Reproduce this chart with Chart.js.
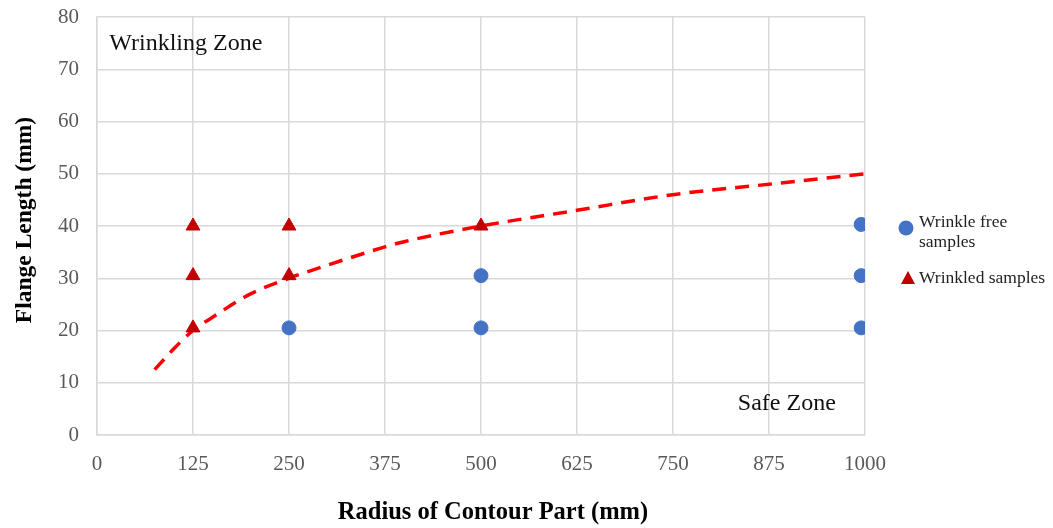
<!DOCTYPE html>
<html>
<head>
<meta charset="utf-8">
<script src="https://cdn.jsdelivr.net/npm/chart.js@4"></script>
<style>
  html, body { margin: 0; padding: 0; background: #fff; }
  #wrap { width: 1053px; height: 528px; }
</style>
</head>
<body>
<div id="wrap"><canvas id="chart" width="1053" height="528"></canvas></div>
<script>
// values
const freeX = [250, 500, 500, 995, 995, 995];
const freeY = [20.5, 20.5, 30.5, 20.5, 30.5, 40.3];
const wrinkledX = [125, 125, 125, 250, 250, 500];
const wrinkledY = [20.5, 30.5, 40, 30.5, 40, 40];
const limitX = [75, 100, 125, 150, 200, 250, 300, 375, 400, 500, 625, 750, 875, 1000];
const limitY = [12.5, 16.5, 20, 22.5, 27, 30, 32.5, 36, 37, 40, 43, 46, 48, 50];
const legendLabels = [["Wrinkle free", "samples"], ["Wrinkled samples"]];
const zoneLabels = ["Wrinkling Zone", "Safe Zone"];
const xTitle = "Radius of Contour Part (mm)";
const yTitle = "Flange Length (mm)";

const serif = "'Liberation Serif', 'DejaVu Serif', serif";
const blue = "#4472C4";
const darkRed = "#C00000";

const toPoints = (xs, ys) => xs.map((x, i) => ({ x: x, y: ys[i] }));

const extras = {
    id: "extras",
    afterDraw(chart) {
        const ctx = chart.ctx;
        const area = chart.chartArea;
        const xs = chart.scales.x, ys = chart.scales.y;
        ctx.save();
        ctx.fillStyle = "#111";
        ctx.textBaseline = "middle";
        ctx.font = "24px " + serif;
        ctx.textAlign = "left";
        ctx.fillText(zoneLabels[0], xs.getPixelForValue(16), ys.getPixelForValue(74.8));
        ctx.textAlign = "right";
        ctx.fillText(zoneLabels[1], xs.getPixelForValue(962), ys.getPixelForValue(6));

        // axis titles
        ctx.fillStyle = "#000";
        ctx.textAlign = "center";
        ctx.font = "bold 24.5px " + serif;
        ctx.fillText(xTitle, area.left + area.width / 2 + 12, area.bottom + 78);
        ctx.save();
        ctx.translate(25, area.top + area.height / 2 - 6);
        ctx.rotate(-Math.PI / 2);
        ctx.font = "bold 23.5px " + serif;
        ctx.fillText(yTitle, 0, 0);
        ctx.restore();

        // legend
        ctx.textAlign = "left";
        ctx.font = "17.5px " + serif;
        const lx = area.right + 41;
        let ly = area.top + 211;
        ctx.fillStyle = blue;
        ctx.beginPath();
        ctx.arc(lx, ly, 7.5, 0, Math.PI * 2);
        ctx.fill();
        ctx.fillStyle = "#222";
        ctx.fillText(legendLabels[0][0], lx + 13, ly - 6);
        ctx.fillText(legendLabels[0][1], lx + 13, ly + 14);
        ly += 50;
        ctx.fillStyle = darkRed;
        ctx.beginPath();
        ctx.moveTo(lx + 2, ly - 7);
        ctx.lineTo(lx + 9, ly + 6);
        ctx.lineTo(lx - 5, ly + 6);
        ctx.closePath();
        ctx.fill();
        ctx.fillStyle = "#222";
        ctx.fillText(legendLabels[1][0], lx + 13, ly);
        ctx.restore();
    }
};

const config = {
    type: "scatter",
    data: {
        datasets: [
            {
                label: "limit",
                data: toPoints(limitX, limitY),
                showLine: true,
                borderColor: "#FF0000",
                borderWidth: 3.5,
                borderDash: [14, 9],
                pointRadius: 0,
                cubicInterpolationMode: "monotone",
                fill: false,
                order: 3,
            },
            {
                label: legendLabels[0].join(" "),
                data: toPoints(freeX, freeY),
                backgroundColor: blue,
                borderColor: blue,
                pointRadius: 7,
                pointStyle: "circle",
                order: 1,
            },
            {
                label: legendLabels[1][0],
                data: toPoints(wrinkledX, wrinkledY),
                backgroundColor: darkRed,
                borderColor: darkRed,
                pointRadius: 8,
                pointStyle: "triangle",
                order: 2,
            },
        ],
    },
    options: {
        responsive: false,
        animation: false,
        layout: { padding: { top: 17, right: 188, left: 0, bottom: 0 }, autoPadding: false },
        plugins: {
            legend: { display: false },
            tooltip: { enabled: false },
        },
        scales: {
            x: {
                type: "linear",
                min: 0,
                max: 1000,
                ticks: {
                    stepSize: 125,
                    color: "#595959",
                    font: { family: serif, size: 21 },
                    padding: 17,
                    maxRotation: 0,
                    callback: (v) => String(v),
                },
                grid: { color: "#d9d9d9", lineWidth: 1.5, drawTicks: false },
                border: { color: "#d9d9d9", width: 1.5 },
                afterFit(scale) {
                    scale.height = 93;
                    scale.paddingLeft = 0;
                    scale.paddingRight = 0;
                },
            },
            y: {
                min: 0,
                max: 80,
                ticks: {
                    stepSize: 10,
                    color: "#595959",
                    font: { family: serif, size: 21 },
                    padding: 18,
                },
                grid: { color: "#d9d9d9", lineWidth: 1.5, drawTicks: false },
                border: { color: "#d9d9d9", width: 1.5 },
                afterFit(scale) {
                    scale.width = 97;
                    scale.paddingTop = 0;
                    scale.paddingBottom = 0;
                },
            },
        },
    },
    plugins: [extras],
};

new Chart(document.getElementById("chart"), config);
</script>
</body>
</html>
